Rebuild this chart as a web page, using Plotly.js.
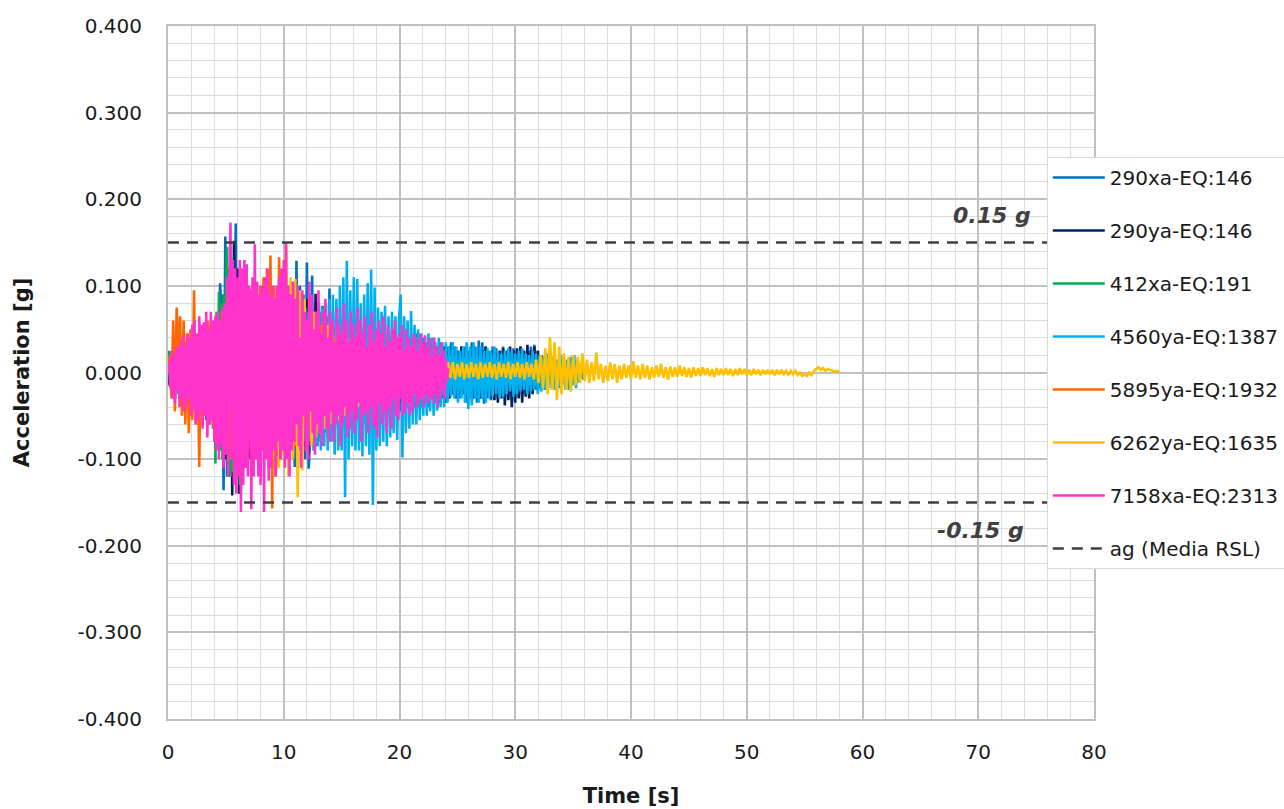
<!DOCTYPE html>
<html><head><meta charset="utf-8">
<script src="https://cdn.plot.ly/plotly-3.0.1.min.js"></script>
<style>html,body{margin:0;padding:0;background:#fff;}#chart{width:1284px;height:809px;}</style>
</head><body><div id="chart"></div>
<script>
// ---- series names / colours ----
const seriesNames = ["290xa-EQ:146","290ya-EQ:146","412xa-EQ:191","4560ya-EQ:1387","5895ya-EQ:1932","6262ya-EQ:1635","7158xa-EQ:2313"];
const seriesColors = ["#0070C0","#002060","#00B050","#00B0F0","#FF6600","#FFC000","#FF33CC"];
// sampling step (s) of each record
const dt290xa = 0.15, dt290ya = 0.15, dt412xa = 0.1, dt4560ya = 0.15, dt5895ya = 0.15, dt6262ya = 0.2, dt7158xa = 0.1;

// ---- acceleration values [g] ----
const acc290xa = [
0.000,0.015,-0.020,0.025,-0.030,0.030,-0.025,0.035,-0.030,0.030,
-0.040,0.035,-0.035,0.040,-0.045,0.040,-0.040,0.045,-0.050,0.045,
-0.050,0.050,-0.055,0.050,-0.060,0.055,-0.065,0.060,-0.080,-0.070,
0.103,0.060,-0.136,0.157,-0.120,0.100,-0.110,0.130,-0.100,0.172,
-0.120,0.110,-0.130,0.100,-0.110,0.100,-0.100,0.090,-0.100,0.095,
-0.090,0.085,-0.095,0.090,-0.080,0.085,-0.090,0.080,-0.085,0.090,
-0.080,0.085,-0.090,0.080,-0.085,0.090,-0.080,0.095,-0.090,0.100,
-0.095,0.090,0.100,-0.109,0.129,-0.090,0.100,-0.095,0.090,-0.100,
0.127,-0.111,-0.070,0.112,-0.090,0.080,-0.085,0.070,-0.080,0.077,
-0.070,0.065,-0.075,0.097,-0.070,0.070,-0.065,0.075,-0.060,0.065,
-0.060,0.055,-0.060,0.065,-0.055,0.060,-0.065,0.055,-0.060,0.050,-0.055,
0.060,-0.050,0.055,-0.060,0.050,-0.055,0.045,-0.050,0.055,-0.050,
0.050,-0.045,0.055,-0.050,0.045,-0.055,0.050,-0.045,0.050,-0.040,
0.045,-0.050,0.040,-0.045,0.050,-0.040,0.045,-0.040,0.040,-0.045,
0.040,-0.035,0.045,-0.040,0.035,-0.040,0.040,-0.035,0.035,-0.040,
0.035,-0.030,0.040,-0.035,0.030,-0.035,0.035,-0.030,0.030,-0.035,
0.030,-0.030,0.035,-0.025,0.030,-0.030,0.025,-0.030,0.030,-0.025,
0.030,-0.035,0.025,-0.030,0.035,-0.025,0.030,-0.035,0.037,-0.030,
0.035,-0.036,0.030,-0.030,0.025,-0.032,0.030,-0.025,0.028,-0.030,
0.025,-0.028,0.030,-0.025,0.022,-0.030,0.025,-0.022,0.028,-0.025,
0.025,-0.022,0.030,-0.020,0.025,-0.025,0.022,-0.020,0.030,-0.022,
0.032,-0.020,0.025,-0.018,0.020,-0.015,0.018,-0.012,0.010,-0.005,0.000];

const acc290ya = [
0.000,-0.015,0.020,-0.025,0.030,-0.020,0.025,-0.030,0.025,-0.030,
0.035,-0.030,0.030,-0.035,0.040,-0.035,0.035,-0.040,0.040,-0.045,
0.045,-0.040,0.050,-0.045,0.050,-0.055,0.055,-0.060,0.060,-0.070,
0.070,-0.080,0.090,-0.100,0.110,-0.120,0.130,-0.142,0.152,-0.130,
0.120,-0.140,0.110,-0.120,0.100,-0.110,0.095,-0.100,0.090,-0.095,
0.085,-0.090,0.080,-0.085,0.080,-0.080,0.075,-0.080,0.070,-0.075,
0.070,-0.075,0.075,-0.070,0.070,-0.075,0.080,-0.070,0.075,-0.080,
0.080,-0.085,0.085,-0.080,0.080,-0.090,0.085,-0.080,0.080,-0.085,
0.085,-0.095,0.080,-0.085,-0.070,0.091,-0.080,0.070,-0.075,0.065,
-0.070,0.065,-0.060,0.060,-0.065,0.055,-0.060,0.055,-0.055,0.050,
-0.050,0.055,-0.050,0.050,-0.045,0.050,-0.050,0.045,-0.050,0.045,
-0.045,0.050,-0.045,0.045,-0.050,0.045,-0.040,0.045,-0.045,0.040,
-0.045,0.040,-0.040,0.045,-0.040,0.040,-0.045,0.040,-0.040,0.035,
-0.040,0.040,-0.035,0.040,-0.035,0.035,-0.040,0.035,-0.035,0.040,
-0.035,0.035,-0.040,0.030,-0.035,0.035,-0.030,0.035,-0.035,0.030,
-0.035,0.030,-0.030,0.035,-0.030,0.030,-0.035,0.025,-0.030,0.030,
-0.035,0.025,-0.030,0.030,-0.025,0.025,-0.030,0.025,-0.025,0.030,
-0.025,0.025,-0.030,0.020,-0.025,0.025,-0.030,0.020,-0.025,0.025,
-0.030,0.025,-0.025,0.030,-0.028,0.020,-0.030,0.025,-0.032,0.022,
-0.035,0.025,-0.030,0.028,-0.038,0.025,-0.032,0.030,-0.040,0.025,
-0.035,0.028,-0.030,0.030,-0.035,0.025,-0.028,0.032,-0.030,0.025,
-0.025,0.030,-0.020,0.025,-0.018,0.020,-0.015,0.012,-0.010,0.005,0.000];

const acc412xa = [
0.000,0.025,-0.015,0.020,-0.025,0.020,-0.030,0.025,-0.020,0.030,
-0.030,0.035,-0.030,0.030,-0.035,0.035,-0.030,0.040,-0.035,0.030,
-0.040,0.035,-0.040,0.045,-0.035,0.040,-0.045,0.040,-0.040,0.045,
-0.045,0.050,-0.050,0.045,-0.055,0.055,-0.050,0.050,0.058,-0.060,
0.060,-0.105,0.070,-0.080,0.093,-0.090,0.080,-0.100,0.090,-0.095,
0.100,0.145,-0.110,0.120,-0.120,0.110,-0.115,0.100,-0.110,0.095,
-0.100,0.090,-0.130,0.085,-0.090,0.080,-0.085,0.080,-0.080,0.075,
-0.075,0.070,-0.070,0.065,-0.070,0.060,-0.065,0.060,-0.060,0.055,
-0.060,0.055,-0.055,0.050,-0.055,0.050,-0.050,0.045,-0.050,0.045,
-0.045,0.040,-0.045,0.040,-0.040,0.035,-0.040,0.035,-0.035,0.030,
-0.035,0.030,-0.030,0.030,-0.025,0.025,-0.030,0.025,-0.020,0.020,
-0.020,0.020,-0.015,0.015,-0.012,0.010,-0.010,0.008,-0.005,0.003,0.000];

const acc4560ya = [
0.000,0.010,-0.015,0.020,-0.020,0.025,-0.025,0.020,-0.030,0.025,
-0.030,0.030,-0.035,0.030,-0.030,0.035,-0.035,0.040,-0.035,0.040,
-0.040,0.045,-0.045,0.040,-0.050,0.045,-0.050,0.050,-0.055,0.050,
-0.060,0.055,-0.060,0.065,-0.065,0.060,-0.070,0.065,-0.070,0.070,
-0.075,0.070,-0.070,0.075,-0.080,0.070,-0.075,0.080,-0.075,0.070,
-0.080,0.075,-0.070,0.080,-0.075,0.070,-0.080,0.075,-0.070,0.075,
-0.075,0.070,-0.080,0.075,-0.070,0.080,-0.075,0.070,-0.080,0.075,
-0.080,0.070,-0.085,0.075,-0.080,0.065,-0.085,0.070,-0.080,0.075,
-0.085,0.070,-0.080,0.075,-0.090,0.070,-0.085,0.080,-0.090,0.075,
-0.085,0.080,-0.090,0.085,-0.080,0.090,-0.095,0.085,-0.090,0.100,
-0.090,0.110,-0.144,0.129,-0.100,0.095,-0.085,0.110,-0.090,0.108,
-0.090,0.080,-0.097,0.090,-0.085,0.103,-0.095,0.119,-0.153,0.098,
-0.090,0.075,-0.085,0.070,-0.080,0.077,-0.085,0.065,-0.075,0.070,
-0.070,0.065,-0.078,0.060,0.090,-0.098,0.065,-0.070,0.060,-0.065,
0.071,-0.060,0.055,-0.060,0.050,-0.055,0.045,-0.050,0.040,-0.050,
0.045,-0.045,0.040,-0.050,0.035,-0.044,0.040,-0.040,0.035,-0.040,
0.035,-0.035,0.030,-0.028,0.035,-0.030,0.030,-0.035,0.025,-0.030,
0.030,-0.035,0.035,-0.042,0.030,-0.038,0.035,-0.030,0.028,-0.035,
0.030,-0.030,0.025,-0.035,0.028,-0.030,0.025,-0.028,0.030,-0.025,
0.025,-0.030,0.022,-0.028,0.025,-0.025,0.028,-0.022,0.025,-0.028,
0.022,-0.025,0.025,-0.022,0.028,-0.020,0.022,-0.025,0.020,-0.022,
0.025,-0.020,0.022,-0.025,0.020,-0.022,0.018,-0.020,0.022,-0.018,
0.020,-0.018,0.018,-0.020,0.015,-0.018,0.020,-0.015,0.018,-0.020,
0.015,-0.020,0.018,-0.015,0.020,-0.018,0.015,-0.012,0.010,-0.008,0.000];

const acc5895ya = [
0.000,0.020,-0.030,0.060,-0.045,0.075,0.020,0.065,-0.050,0.060,
-0.060,0.045,-0.070,0.050,-0.055,0.095,-0.060,0.040,-0.109,0.050,
-0.060,0.045,-0.050,0.060,-0.055,0.050,-0.065,0.055,-0.070,0.060,
-0.080,0.070,-0.075,0.080,-0.090,0.085,-0.100,0.090,-0.080,0.100,
-0.095,0.085,-0.110,0.090,-0.100,0.100,-0.090,0.080,-0.120,0.095,
-0.100,0.090,-0.110,0.100,-0.090,0.110,-0.100,0.120,-0.110,0.135,
-0.157,0.100,-0.120,-0.080,0.133,-0.100,0.090,-0.090,0.080,-0.100,
0.085,-0.080,0.070,-0.085,0.075,-0.070,0.065,-0.075,0.070,-0.060,
0.060,-0.070,0.055,-0.060,0.060,-0.055,0.050,-0.065,0.055,-0.050,
0.050,-0.060,0.045,-0.050,0.050,-0.045,0.040,-0.050,0.045,-0.040,
0.040,-0.045,0.040,-0.040,0.035,-0.040,0.035,-0.035,0.040,-0.030,0.035,
-0.035,0.030,-0.035,0.030,-0.030,0.035,-0.030,0.025,-0.030,0.030,
-0.025,0.030,-0.025,0.025,-0.030,0.025,-0.020,0.025,-0.025,0.020,
-0.020,0.025,-0.020,0.020,-0.018,0.015,-0.012,0.010,-0.005,0.000];

const acc6262ya = [
0.000,0.010,-0.015,0.020,-0.020,0.025,-0.020,0.030,-0.025,0.030,
-0.030,0.035,-0.035,0.030,-0.040,0.040,-0.035,0.045,-0.040,0.045,
-0.050,0.050,-0.055,0.060,-0.060,0.065,-0.070,0.065,-0.070,0.070,
-0.075,0.070,-0.080,0.075,-0.080,0.080,-0.085,0.080,-0.085,0.085,
-0.090,0.085,-0.090,0.090,-0.095,0.090,-0.100,0.093,-0.110,0.100,
-0.095,0.147,-0.120,0.110,-0.100,0.108,-0.144,0.095,-0.113,0.085,
-0.090,0.075,-0.085,0.070,-0.075,0.065,-0.070,0.060,-0.065,0.055,
-0.060,0.055,-0.055,0.050,-0.055,0.045,-0.050,0.045,-0.045,0.040,
-0.045,0.040,-0.040,0.035,-0.040,0.035,-0.035,0.030,-0.035,0.030,
-0.030,0.030,-0.028,0.025,-0.030,0.025,-0.025,0.022,-0.025,0.020,
-0.022,0.020,-0.020,0.022,-0.018,0.020,-0.020,0.018,-0.015,0.020,
-0.015,0.018,-0.012,0.015,-0.015,0.012,-0.012,0.015,-0.010,0.012,
-0.008,0.012,-0.006,0.012,-0.008,0.010,-0.005,0.012,-0.008,0.010,
-0.006,0.012,-0.005,0.010,-0.008,0.012,-0.006,0.010,-0.005,0.012,
-0.006,0.010,-0.008,0.012,-0.005,0.010,-0.006,0.012,-0.008,0.010,
-0.005,0.012,-0.006,0.010,-0.008,0.012,-0.005,0.010,-0.008,0.015,
-0.012,0.020,-0.018,0.028,-0.025,0.041,-0.020,0.035,-0.032,0.030,
-0.025,0.022,-0.020,0.018,-0.022,0.020,-0.015,0.018,-0.012,0.022,
-0.010,0.015,-0.012,0.012,-0.010,0.023,-0.008,0.010,-0.012,0.008,
-0.010,0.012,-0.008,0.010,-0.012,0.008,-0.008,0.010,-0.006,0.008,
-0.008,0.013,-0.006,0.008,-0.008,0.010,-0.006,0.008,-0.008,0.006,
-0.006,0.008,-0.005,0.010,-0.006,0.006,-0.008,0.007,-0.005,0.006,
-0.005,0.008,-0.004,0.006,-0.005,0.005,-0.006,0.006,-0.004,0.005,
-0.004,0.006,-0.003,0.005,-0.004,0.004,-0.005,0.005,-0.003,0.004,
-0.003,0.005,-0.003,0.004,-0.004,0.004,-0.003,0.005,-0.002,0.004,
-0.003,0.003,-0.003,0.004,-0.002,0.003,-0.003,0.003,-0.002,0.003,
-0.002,0.003,-0.003,0.003,-0.002,0.003,-0.002,0.002,-0.003,0.002,
-0.002,0.002,-0.003,0.000,-0.004,-0.002,-0.004,0.000,-0.003,0.002,
0.004,0.006,0.003,0.005,0.002,0.004,0.003,0.002,0.001,0.002,0.000];

const acc7158xa = [
0.000,0.012,-0.018,0.025,-0.030,0.020,-0.035,0.030,-0.022,0.028,
-0.040,0.035,-0.030,0.042,-0.045,0.030,-0.038,0.045,-0.030,0.040,
-0.050,0.055,-0.042,0.060,-0.060,0.045,-0.055,0.065,-0.045,0.055,
-0.065,0.058,-0.050,0.070,-0.075,0.050,-0.060,0.070,-0.055,0.060,
-0.080,0.065,-0.090,0.070,-0.100,0.060,-0.085,0.075,-0.110,0.080,
-0.095,0.110,-0.120,0.100,0.173,-0.100,0.130,-0.130,0.120,-0.140,
0.110,-0.120,0.130,-0.161,0.120,-0.130,0.130,-0.110,0.125,-0.120,
0.100,0.090,-0.158,0.110,-0.120,0.148,-0.100,0.105,-0.120,0.090,
-0.130,0.100,0.095,-0.161,0.110,-0.100,0.120,-0.125,0.090,-0.110,
0.100,-0.090,0.085,-0.120,0.100,-0.080,0.110,-0.100,0.120,-0.090,
0.130,-0.110,0.150,-0.100,0.100,-0.120,0.090,-0.090,0.105,-0.080,
0.085,-0.060,0.100,-0.085,0.040,-0.110,0.095,-0.050,0.070,-0.090,
0.060,-0.100,0.105,-0.045,0.090,-0.070,0.050,-0.095,0.070,-0.060,
0.095,-0.070,0.045,-0.085,0.070,-0.050,0.085,-0.065,0.040,-0.080,
0.070,-0.045,0.060,-0.080,0.035,-0.060,0.075,-0.050,0.055,-0.085,
0.045,-0.060,0.080,-0.040,0.060,-0.075,0.035,-0.065,0.070,-0.045,
0.055,-0.070,0.040,-0.055,0.075,-0.035,0.060,-0.080,0.045,-0.050,
0.065,-0.045,0.030,-0.070,0.055,-0.040,0.070,-0.060,0.035,-0.065,
0.050,-0.075,0.060,-0.035,0.045,-0.060,0.065,-0.045,0.030,-0.070,
0.055,-0.040,0.035,-0.065,0.050,-0.030,0.060,-0.050,0.040,-0.055,
0.045,-0.030,0.055,-0.050,0.025,-0.045,0.050,-0.035,0.040,-0.050,
0.030,-0.045,0.045,-0.025,0.040,-0.040,0.025,-0.035,0.045,-0.030,
0.035,-0.040,0.043,-0.025,0.030,-0.035,0.040,-0.030,0.020,-0.035,
0.040,-0.025,0.030,-0.040,0.020,-0.030,0.035,-0.020,0.025,-0.030,
0.015,-0.010,0.005];

// design ground acceleration (ag, Media RSL)
const agName = "ag (Media RSL)";
const agLevels = [0.15, -0.15];
const agTimeSpan = [0, 80];
const agLabels = ["0.15 g", "-0.15 g"];

// axis ticks
const xTickVals = [0,10,20,30,40,50,60,70,80];
const yTickVals = [-0.4,-0.3,-0.2,-0.1,0,0.1,0.2,0.3,0.4];
const yTickLabels = ["-0.400","-0.300","-0.200","-0.100","0.000","0.100","0.200","0.300","0.400"];

// ---- build traces ----
const seriesValues = [acc290xa, acc290ya, acc412xa, acc4560ya, acc5895ya, acc6262ya, acc7158xa];
const seriesDt = [dt290xa, dt290ya, dt412xa, dt4560ya, dt5895ya, dt6262ya, dt7158xa];
const FONT = "DejaVu Sans, Liberation Sans, sans-serif";

const traces = seriesNames.map((name, i) => ({
  type: "scatter", mode: "lines", name: name,
  x0: 0, dx: seriesDt[i], y: seriesValues[i],
  line: {color: seriesColors[i], width: 2.6},
  legendgroup: "g" + i, hoverinfo: "skip"
}));

const agX = [], agY = [];
agLevels.forEach((lv, k) => {
  if (k > 0) { agX.push(null); agY.push(null); }
  agX.push(agTimeSpan[0], agTimeSpan[1]);
  agY.push(lv, lv);
});
traces.push({
  type: "scatter", mode: "lines", name: agName, x: agX, y: agY,
  line: {color: "#404040", width: 2.6, dash: "11px,8px"},
  legendgroup: "gag", hoverinfo: "skip"
});

const layout = {
  width: 1284, height: 809,
  paper_bgcolor: "#ffffff", plot_bgcolor: "#ffffff",
  margin: {l: 168, r: 190, t: 26, b: 90, autoexpand: false},
  font: {family: FONT, size: 20, color: "#1a1a1a"},
  showlegend: true,
  xaxis: {
    range: [0, 80], tickvals: xTickVals, ticks: "",
    showgrid: true, gridcolor: "#c0c0c0", gridwidth: 2,
    minor: {dtick: 2, tick0: 0, showgrid: true, gridcolor: "#dcdcdc", gridwidth: 1},
    zeroline: false, showline: true, linecolor: "#c0c0c0", linewidth: 2, mirror: true,
    tickfont: {size: 20, color: "#1a1a1a"}, ticklabelstandoff: 14,
    title: {text: "<b>Time [s]</b>", font: {size: 21, color: "#1a1a1a"}, standoff: 25}
  },
  yaxis: {
    range: [-0.4, 0.4], tickvals: yTickVals, ticktext: yTickLabels, ticks: "",
    showgrid: true, gridcolor: "#c0c0c0", gridwidth: 2,
    minor: {dtick: 0.02, tick0: 0, showgrid: true, gridcolor: "#dcdcdc", gridwidth: 1},
    zeroline: false, showline: true, linecolor: "#c0c0c0", linewidth: 2, mirror: true,
    tickfont: {size: 20, color: "#1a1a1a"}, ticklabelstandoff: 20,
    title: {text: "<b>Acceleration [g]</b>", font: {size: 21, color: "#1a1a1a"}, standoff: 42}
  },
  legend: {
    x: 0.949, y: 0.811, xanchor: "left", yanchor: "top",
    bgcolor: "#ffffff", bordercolor: "#d9d9d9", borderwidth: 1,
    font: {size: 20, color: "#1a1a1a"},
    traceorder: "grouped", tracegroupgap: 24, itemwidth: 52
  },
  annotations: [
    {x: 74.7, y: 0.181, xref: "x", yref: "y", xanchor: "right", yanchor: "middle",
     text: "<b><i>" + agLabels[0] + "</i></b>", showarrow: false, font: {size: 22, color: "#404040"}},
    {x: 74.1, y: -0.182, xref: "x", yref: "y", xanchor: "right", yanchor: "middle",
     text: "<b><i>" + agLabels[1] + "</i></b>", showarrow: false, font: {size: 22, color: "#404040"}}
  ]
};

Plotly.newPlot("chart", traces, layout, {displayModeBar: false, staticPlot: true});
</script>
</body></html>
